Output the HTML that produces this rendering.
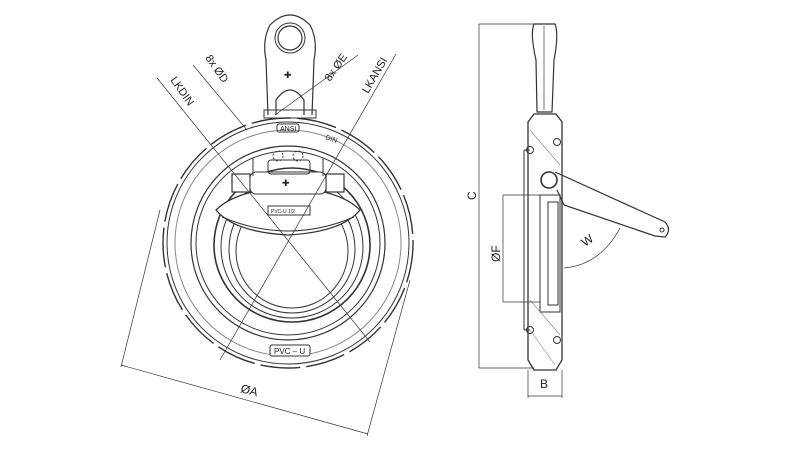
<!DOCTYPE html>
<html><head><style>
html,body{margin:0;padding:0;background:#fff;}
svg{display:block;}
text{font-family:"Liberation Sans",sans-serif;fill:#222;}
</style></head><body>
<svg width="795" height="453" viewBox="0 0 795 453" xmlns="http://www.w3.org/2000/svg" fill="none" stroke="#333" stroke-width="1">
<!-- FRONT VIEW -->
<g>
  <!-- lifting eye -->
  <path d="M268,115 L266,60 Q262,40 270,25 Q290,5 310,25 Q318,40 314,60 L312,115" stroke-width="1.2"/>
  <circle cx="290" cy="38" r="12" stroke-width="1.2"/>
  <circle cx="290" cy="38" r="15"/>
  <path d="M276,115 L276,100 Q290,80 304,100 L304,115" stroke-width="1.2"/>
  <text x="284" y="78" font-size="9" fill="#333" stroke="none">✚</text>
  <rect x="264" y="110" width="52" height="8"/>
  <!-- outer toothed ring -->
  <circle cx="288" cy="243" r="125" stroke-width="1.4" stroke-dasharray="40 6"/>
  <circle cx="288" cy="243" r="121"/>
  <circle cx="288" cy="243" r="113" stroke="#888"/>
  <circle cx="288" cy="243" r="97" stroke-width="1.2"/>
  <circle cx="288" cy="243" r="92"/>
  <!-- bore -->
  <ellipse cx="292" cy="245" rx="78" ry="77" stroke-width="1.6"/>
  <ellipse cx="292" cy="247" rx="71" ry="71"/>
  <ellipse cx="292" cy="249" rx="63" ry="64"/>
  <ellipse cx="292" cy="251" rx="56" ry="57"/>
  <!-- disc -->
  <path d="M216,210 Q236,190 288,187 Q340,190 360,210 Q342,232 288,235 Q234,232 216,210 Z" fill="#fff" stroke-width="1.3"/>
  <path d="M222,217 Q288,245 354,217"/>
  <rect x="268" y="206" width="42" height="9"/>
  <text x="271" y="213" font-size="5" stroke="none">PVC-U 1/2</text>
  <!-- hinge -->
  <rect x="232" y="174" width="18" height="18" stroke-width="1.2" fill="#fff"/>
  <rect x="326" y="174" width="18" height="18" stroke-width="1.2" fill="#fff"/>
  <rect x="250" y="172" width="76" height="22" rx="6" fill="#fff"/>
  <rect x="268" y="160" width="42" height="14" rx="3"/>
  <line x1="253" y1="158" x2="253" y2="176"/><line x1="323" y1="158" x2="323" y2="176"/>
  <circle cx="278" cy="156" r="5" stroke-dasharray="2 2"/><circle cx="298" cy="156" r="5" stroke-dasharray="2 2"/>
  <text x="282" y="186" font-size="9" stroke="none">✚</text>
  <!-- labels -->
  <rect x="277" y="124" width="22" height="8" rx="2"/>
  <text x="280" y="131" font-size="7" stroke="none">ANSI</text>
  <text x="325" y="139" font-size="7" stroke="none" transform="rotate(20 325 139)">DIN</text>
  <rect x="270" y="345" width="40" height="11" rx="2" fill="#fff"/>
  <text x="274" y="354" font-size="8" stroke="none">PVC – U</text>
  <!-- leader lines -->
  <g stroke-width="0.7">
    <line x1="157" y1="78" x2="370" y2="342"/>
    <line x1="193" y1="65" x2="247" y2="130"/>
    <line x1="275" y1="115" x2="358" y2="55"/>
    <line x1="396" y1="54" x2="220" y2="360"/>
  </g>
  <text x="0" y="0" font-size="11" stroke="none" transform="translate(170 80) rotate(55)">LKDIN</text>
  <text x="0" y="0" font-size="11" stroke="none" transform="translate(205 58) rotate(55)">8x ØD</text>
  <text x="0" y="0" font-size="11" stroke="none" transform="translate(330 82) rotate(-55)">8x ØE</text>
  <text x="0" y="0" font-size="11" stroke="none" transform="translate(368 94) rotate(-60)">LKANSI</text>
  <!-- ØA dimension -->
  <g stroke-width="0.7">
    <line x1="160" y1="210" x2="121" y2="367"/>
    <line x1="410" y1="280" x2="367" y2="436"/>
    <line x1="121" y1="365" x2="368" y2="434"/>
  </g>
  <text x="0" y="0" font-size="12" stroke="none" transform="translate(240 392) rotate(15)">ØA</text>
</g>
<!-- SIDE VIEW -->
<g>
  <path d="M534,24 L555,24 Q559,34 554,60 L552,112 L537,112 L536,60 Q530,34 534,24 Z" stroke-width="1.2"/>
  <line x1="544" y1="26" x2="544" y2="110" stroke="#777"/>
  <path d="M528,122 L534,114 L556,114 L562,122 L562,360 L556,370 L534,370 L528,360 Z" stroke-width="1.3"/>
  <line x1="524" y1="150" x2="524" y2="330"/>
  <line x1="524" y1="150" x2="530" y2="150"/><line x1="524" y1="330" x2="530" y2="330"/>
  <circle cx="530" cy="150" r="3.5"/><circle cx="530" cy="330" r="3.5"/>
  <circle cx="557" cy="142" r="3.5"/><circle cx="557" cy="340" r="3.5"/>
  <path d="M540,195 L560,195 L560,312 L540,312 Z"/>
  <path d="M548,202 L558,202 L558,305 L548,305 Z"/>
  <g stroke="#888" stroke-width="0.6">
    <line x1="530" y1="130" x2="560" y2="165"/>
    <line x1="530" y1="300" x2="560" y2="335"/>
    <line x1="530" y1="330" x2="555" y2="365"/>
  </g>
  <!-- arm -->
  <circle cx="549" cy="180" r="8" stroke-width="1.6"/>
  <path d="M555,172 L665,222 Q672,230 665,237 L655,236 L564,205 L557,190" stroke-width="1.2"/>
  <circle cx="662" cy="230" r="2"/>
  <!-- W arc -->
  <path d="M564,268 Q600,265 620,228" stroke-width="0.7"/>
  <text x="0" y="0" font-size="12" stroke="none" transform="translate(585 247) rotate(-35)">W</text>
  <!-- dims -->
  <g stroke-width="0.7">
    <line x1="479" y1="24" x2="479" y2="368"/>
    <line x1="479" y1="24" x2="535" y2="24"/>
    <line x1="479" y1="368" x2="534" y2="368"/>
    <line x1="503" y1="195" x2="503" y2="302"/>
    <line x1="503" y1="195" x2="540" y2="195"/>
    <line x1="503" y1="302" x2="540" y2="302"/>
    <line x1="528" y1="370" x2="528" y2="398"/>
    <line x1="562" y1="370" x2="562" y2="398"/>
    <line x1="528" y1="396" x2="562" y2="396"/>
  </g>
  <text x="0" y="0" font-size="12" stroke="none" transform="translate(476 200) rotate(-90)">C</text>
  <text x="0" y="0" font-size="12" stroke="none" transform="translate(500 262) rotate(-90)">ØF</text>
  <text x="540" y="388" font-size="12" stroke="none">B</text>
</g>
</svg>
</body></html>
